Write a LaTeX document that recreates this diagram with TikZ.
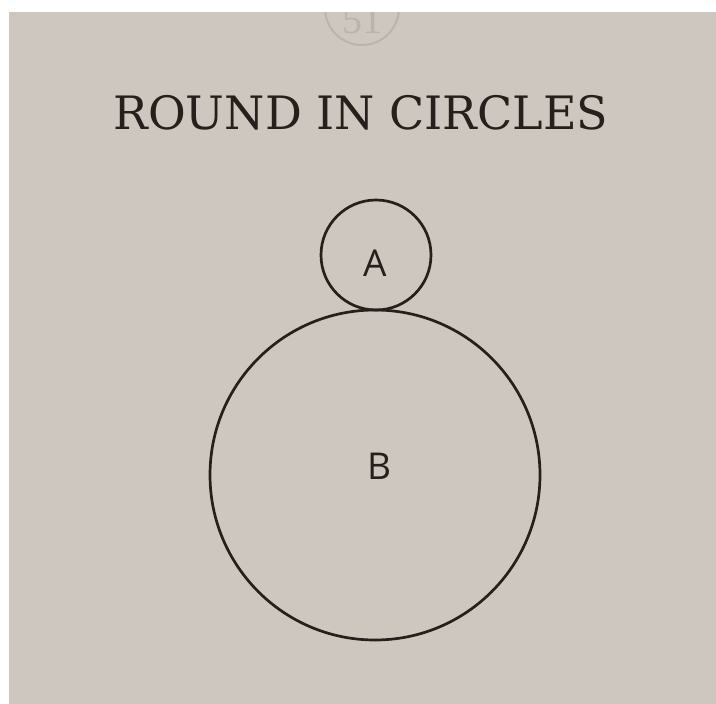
\documentclass[tikz,border=0pt]{standalone}
\usepackage{fontspec}
\setmainfont{DejaVu Serif}
\newfontfamily\labelfont{Open Sans}
\newfontfamily\numfont{Liberation Serif}
\definecolor{paper}{RGB}{205,199,191}
\definecolor{ink}{RGB}{38,32,28}
\definecolor{faint}{RGB}{186,180,172}
\tikzset{
  ring/.style={draw=ink, line width=2.7pt, circle, inner sep=0pt},
  lbl/.style={text=ink, font=\labelfont\fontsize{37}{37}\selectfont},
}
\begin{document}
\begin{tikzpicture}[x=1pt,y=-1pt]
\useasboundingbox (0,0) rectangle (716,704);
\fill[white] (0,0) rectangle (716,704);
\fill[paper] (9,12) rectangle (716,704);
% faint page number
\begin{scope}
\clip (9,12) rectangle (716,704);
\draw[faint, line width=2pt] (362,8) circle (37);
\node[text=faint, font=\numfont\fontsize{40}{40}\selectfont] (pg) at (362,20) {51};
\end{scope}
\node[text=ink, anchor=base, font=\fontsize{46}{46}\selectfont] (title) at (361,129) {ROUND IN CIRCLES};
\node[ring, minimum size=110] (A) at (376,255) {};
\node[ring, minimum size=330] (B) at (375,475) {};
\node[lbl] (la) at (375,263) {A};
\node[lbl] (lb) at (379,466) {B};
\end{tikzpicture}
\end{document}
